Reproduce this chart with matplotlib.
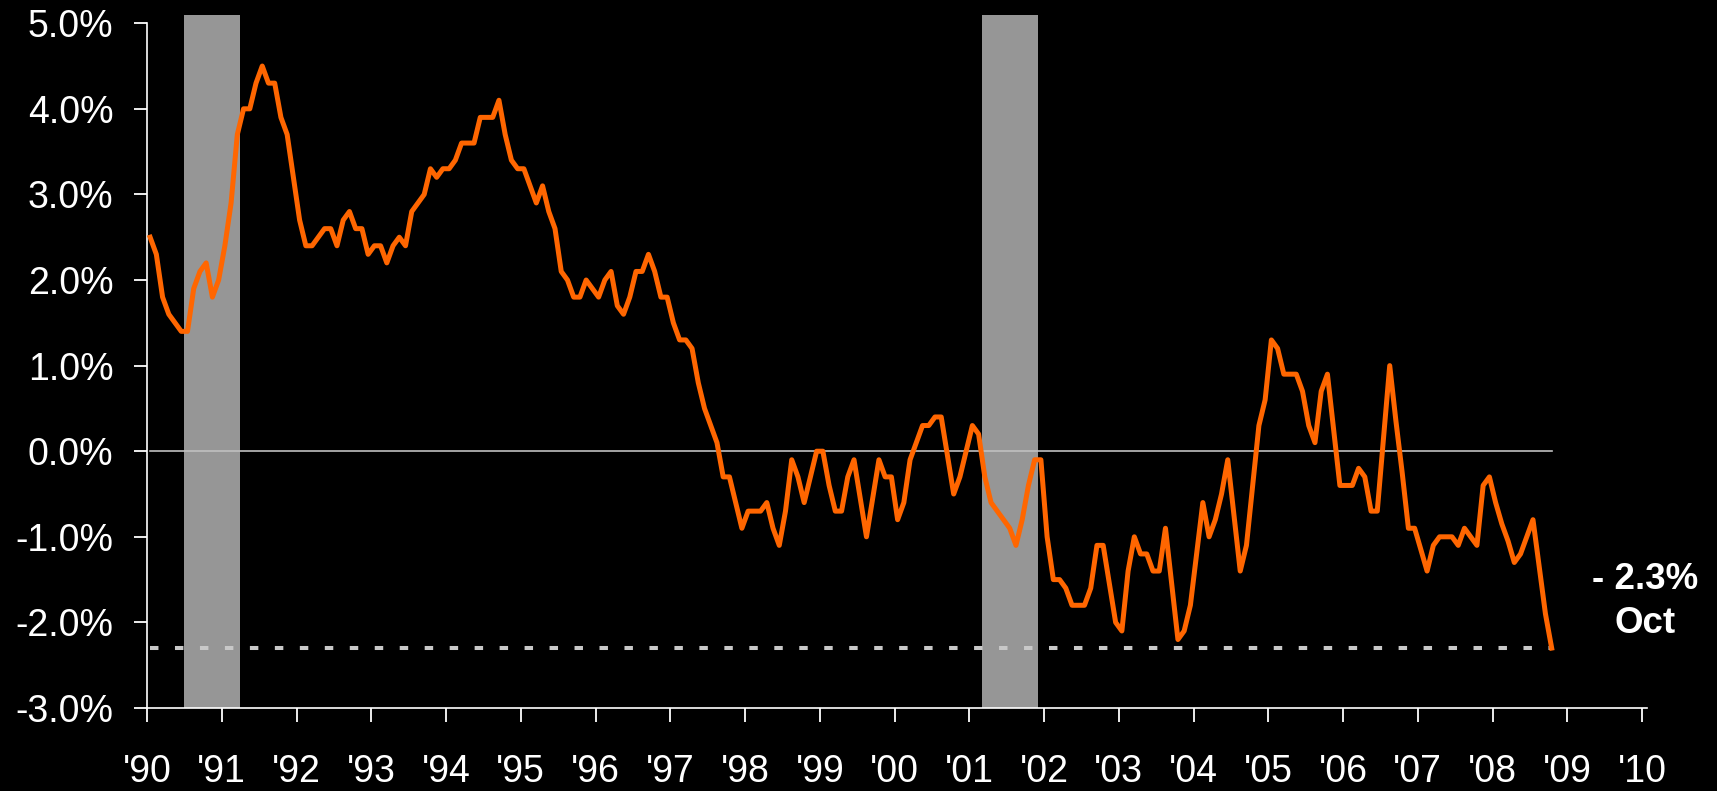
import numpy as np
import pandas as pd
import matplotlib
matplotlib.use("Agg")
import matplotlib.pyplot as plt

plt.rcParams['font.family'] = ['Liberation Sans', 'DejaVu Sans']

# Variación anual (%), mensual, enero 1990 - octubre 2008
valores = [
    2.5, 2.3, 1.8, 1.6, 1.5, 1.4, 1.4, 1.9, 2.1, 2.2, 1.8, 2.0,          # 1990
    2.4, 2.9, 3.7, 4.0, 4.0, 4.3, 4.5, 4.3, 4.3, 3.9, 3.7, 3.2,          # 1991
    2.7, 2.4, 2.4, 2.5, 2.6, 2.6, 2.4, 2.7, 2.8, 2.6, 2.6, 2.3,          # 1992
    2.4, 2.4, 2.2, 2.4, 2.5, 2.4, 2.8, 2.9, 3.0, 3.3, 3.2, 3.3,          # 1993
    3.3, 3.4, 3.6, 3.6, 3.6, 3.9, 3.9, 3.9, 4.1, 3.7, 3.4, 3.3,          # 1994
    3.3, 3.1, 2.9, 3.1, 2.8, 2.6, 2.1, 2.0, 1.8, 1.8, 2.0, 1.9,          # 1995
    1.8, 2.0, 2.1, 1.7, 1.6, 1.8, 2.1, 2.1, 2.3, 2.1, 1.8, 1.8,          # 1996
    1.5, 1.3, 1.3, 1.2, 0.8, 0.5, 0.3, 0.1, -0.3, -0.3, -0.6, -0.9,      # 1997
    -0.7, -0.7, -0.7, -0.6, -0.9, -1.1, -0.7, -0.1, -0.3, -0.6, -0.3, 0.0,   # 1998
    0.0, -0.4, -0.7, -0.7, -0.3, -0.1, -0.55, -1.0, -0.55, -0.1, -0.3, -0.3,  # 1999
    -0.8, -0.6, -0.1, 0.1, 0.3, 0.3, 0.4, 0.4, -0.05, -0.5, -0.3, 0.0,   # 2000
    0.3, 0.2, -0.3, -0.6, -0.7, -0.8, -0.9, -1.1, -0.8, -0.4, -0.1, -0.1,     # 2001
    -1.0, -1.5, -1.5, -1.6, -1.8, -1.8, -1.8, -1.6, -1.1, -1.1, -1.55, -2.0,  # 2002
    -2.1, -1.4, -1.0, -1.2, -1.2, -1.4, -1.4, -0.9, -1.55, -2.2, -2.1, -1.8,  # 2003
    -1.2, -0.6, -1.0, -0.8, -0.5, -0.1, -0.75, -1.4, -1.1, -0.4, 0.3, 0.6,    # 2004
    1.3, 1.2, 0.9, 0.9, 0.9, 0.7, 0.3, 0.1, 0.7, 0.9, 0.25, -0.4,        # 2005
    -0.4, -0.4, -0.2, -0.3, -0.7, -0.7, 0.15, 1.0, 0.35, -0.25, -0.9, -0.9,   # 2006
    -1.15, -1.4, -1.1, -1.0, -1.0, -1.0, -1.1, -0.9, -1.0, -1.1, -0.4, -0.3,  # 2007
    -0.6, -0.85, -1.05, -1.3, -1.2, -1.0, -0.8, -1.35, -1.9, -2.3,       # 2008
]
fechas = pd.date_range('1990-01-01', periods=len(valores), freq='MS')

# Recesiones (NBER)
recesion_inicio = ['1990-07', '2001-03']
recesion_fin = ['1991-03', '2001-11']

anios_ticks = list(range(1990, 2011))
etiquetas_x = ["'" + str(a)[2:] for a in anios_ticks]
ticks_y = [-3, -2, -1, 0, 1, 2, 3, 4, 5]
etiquetas_y = ['%.1f%%' % v for v in ticks_y]


def a_decimal(f, fin=False):
    f = pd.Timestamp(f)
    return f.year + (f.month - 1 + (1 if fin else 0)) / 12


x = np.array([f.year + (f.month - 0.5) / 12 for f in fechas])
y = np.array(valores)

naranja = '#FF6600'
gris_banda = '#969696'

fig = plt.figure(figsize=(17.17, 7.91), dpi=100, facecolor='black')
ax = fig.add_axes([147 / 1717, 83 / 791, 1500 / 1717, 693 / 791])
ax.set_facecolor('black')

for ini, fin in zip(recesion_inicio, recesion_fin):
    ax.axvspan(a_decimal(ini), a_decimal(fin, fin=True), color=gris_banda, lw=0, zorder=1)

ax.plot([x[0], x[-1]], [0, 0], color='#c0c0c0', lw=1.2, zorder=2)
ax.plot([x[0], x[-1]], [y[-1], y[-1]], color='#c8c8c8', lw=2.9,
        dashes=(2.1, 4.1), zorder=2)
ax.plot(x, y, color=naranja, lw=3.6, zorder=3, solid_joinstyle='round')

ax.set_xlim(1990, 1990 + 1500 / 74.75)
ax.set_ylim(-3, 5.096)

ax.set_xticks(anios_ticks)
ax.set_xticklabels(etiquetas_x)
ax.set_yticks(ticks_y)
ax.set_yticklabels(etiquetas_y)

for s in ['top', 'right']:
    ax.spines[s].set_visible(False)
for s in ['left', 'bottom']:
    ax.spines[s].set_color('white')
    ax.spines[s].set_linewidth(1.2)
ax.spines['left'].set_bounds(-3, 5)

ax.tick_params(axis='x', colors='white', direction='out', length=10.3, width=1.3,
               labelsize=27, pad=23)
ax.tick_params(axis='y', colors='white', direction='out', length=9.1, width=1.3,
               labelsize=27, pad=15)

# Etiqueta del último dato
ultimo = fechas[-1]
ax.annotate('- %.1f%%' % abs(y[-1]), xy=(x[-1], y[-1]), xytext=(67, 42.2),
            textcoords='offset points', ha='center', va='baseline',
            color='white', fontsize=26.5, fontweight='bold', annotation_clip=False)
ax.annotate(ultimo.strftime('%b'), xy=(x[-1], y[-1]), xytext=(67, 11.2),
            textcoords='offset points', ha='center', va='baseline',
            color='white', fontsize=26.5, fontweight='bold', annotation_clip=False)

fig.savefig('out.png', dpi=100, facecolor='black')
